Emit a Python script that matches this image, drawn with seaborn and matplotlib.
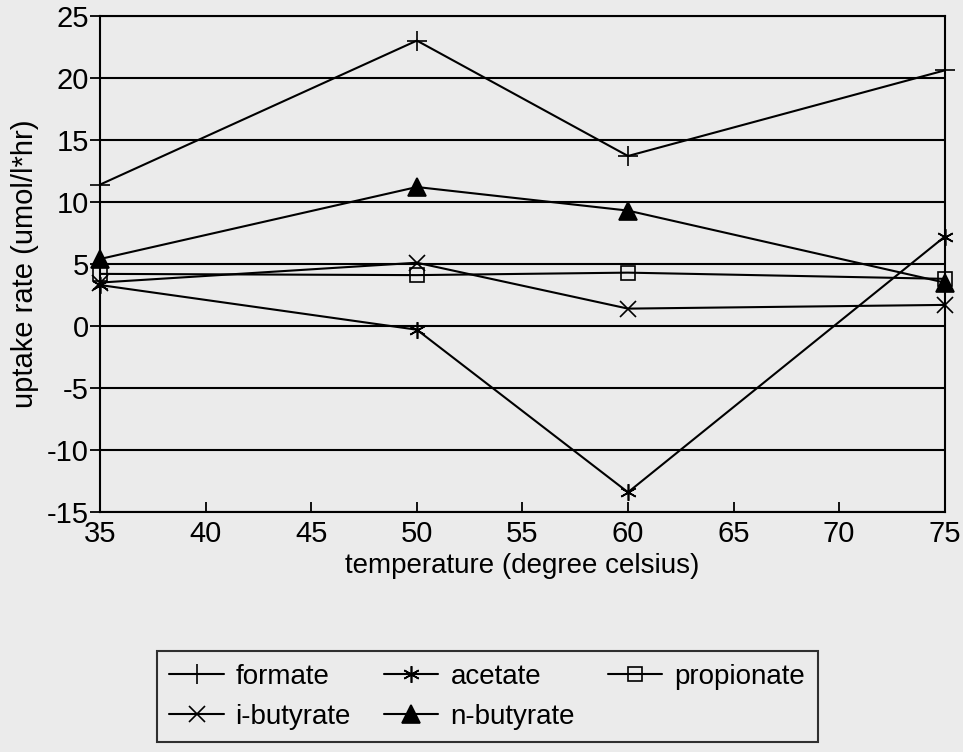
import pandas as pd
import matplotlib
matplotlib.use("Agg")
import matplotlib.pyplot as plt
import seaborn as sns

# temperatures (degree celsius)
TEMPS = [35, 50, 60, 75]
SERIES = ["formate", "acetate", "propionate", "i-butyrate", "n-butyrate"]

# uptake rates (umol/l*hr)
formate = [11.4, 23.0, 13.7, 20.6]
acetate = [3.3, -0.3, -13.4, 7.2]
propionate = [4.2, 4.1, 4.3, 3.8]
i_butyrate = [3.5, 5.1, 1.4, 1.7]
n_butyrate = [5.4, 11.2, 9.3, 3.5]

values = [formate, acetate, propionate, i_butyrate, n_butyrate]
rows = []
for name, vals in zip(SERIES, values):
    for t, v in zip(TEMPS, vals):
        rows.append({"temperature": t, "rate": v, "acid": name})
df = pd.DataFrame(rows)

BG = "#ebebeb"
sns.set_theme(style="ticks")
plt.rcParams["font.family"] = ["Liberation Sans", "DejaVu Sans"]
plt.rcParams["axes.unicode_minus"] = False
plt.rcParams["text.color"] = "black"
plt.rcParams["axes.labelcolor"] = "black"
plt.rcParams["xtick.color"] = "black"
plt.rcParams["ytick.color"] = "black"

fig = plt.figure(figsize=(9.63, 7.52), dpi=100, facecolor=BG)
ax = fig.add_axes([0.104, 0.319, 0.877, 0.66])
ax.set_facecolor(BG)

# marker, size, face colour per series
styles = {
    "formate": ("+", 14, "black"),
    "acetate": ((6, 2, 0), 12, "black"),
    "propionate": ("s", 10, "none"),
    "i-butyrate": ("x", 12, "black"),
    "n-butyrate": ("^", 13, "black"),
}

for name in SERIES:
    mk, ms, fc = styles[name]
    sns.lineplot(data=df[df["acid"] == name], x="temperature", y="rate",
                 color="black", marker=mk, markersize=ms, markerfacecolor=fc,
                 markeredgecolor="black", markeredgewidth=1.2,
                 linewidth=1.5, label=name, ax=ax, clip_on=False, zorder=3)

for y in range(-15, 26, 5):
    ax.axhline(y, color="black", lw=1.5, zorder=1)

ax.set_xlim(35, 75)
ax.set_ylim(-15, 25)
ax.set_xticks(range(35, 76, 5))
ax.set_yticks(range(-15, 26, 5))
ax.tick_params(axis="x", direction="in", length=7, width=1.3, labelsize=21, pad=6)
ax.tick_params(axis="y", direction="out", length=7, width=1.3, labelsize=21, pad=1)
for sp in ax.spines.values():
    sp.set_visible(True)
    sp.set_color("black")
    sp.set_linewidth(1.5)

ax.set_xlabel("temperature (degree celsius)", fontsize=20, labelpad=3)
ax.set_ylabel("uptake rate (umol/l*hr)", fontsize=21, labelpad=6)

handles, labels = ax.get_legend_handles_labels()
ax.get_legend().remove()
hmap = dict(zip(labels, handles))
order = ["formate", "i-butyrate", "acetate", "n-butyrate", "propionate"]
leg = fig.legend([hmap[o] for o in order], order, ncol=3,
                 loc="upper left", bbox_to_anchor=(0.163, 0.134),
                 fontsize=20, frameon=True, fancybox=False,
                 handlelength=1.95, columnspacing=1.2, labelspacing=0.5,
                 borderpad=0.45, handletextpad=0.43, borderaxespad=0)
leg.get_frame().set_edgecolor("black")
leg.get_frame().set_facecolor(BG)
leg.get_frame().set_linewidth(1.5)

fig.savefig("out.png", dpi=100, facecolor=BG)
